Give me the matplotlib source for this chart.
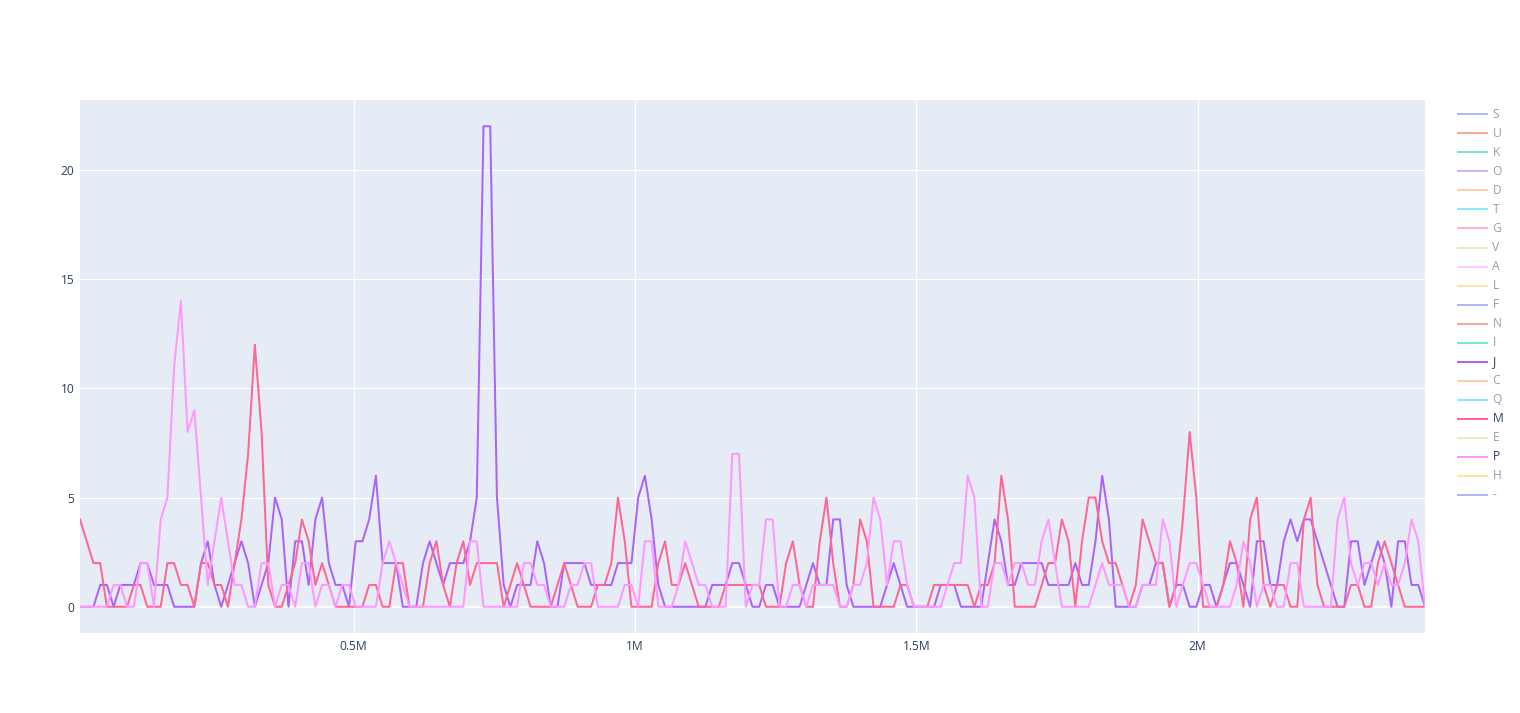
#!/usr/bin/env python
"""
Per-window counts for the three visible series (J, M, P) along the position
axis, drawn plotly-style; the other legend entries are toggled off.
"""
import matplotlib

matplotlib.use("Agg")
import matplotlib.pyplot as plt
from matplotlib.lines import Line2D
from matplotlib.ticker import FixedLocator, FuncFormatter
import numpy as np

# window positions: regular grid, first window and spacing
X_START = 14000
X_STEP = 11950
N_POINTS = 201

j_counts = [
    0, 0, 0, 1, 1, 0, 1, 1, 1, 2,
    2, 1, 1, 1, 0, 0, 0, 0, 2, 3,
    1, 0, 1, 2, 3, 2, 0, 1, 2, 5,
    4, 0, 3, 3, 1, 4, 5, 2, 1, 1,
    0, 3, 3, 4, 6, 2, 2, 2, 0, 0,
    0, 2, 3, 2, 1, 2, 2, 2, 3, 5,
    22, 22, 5, 1, 0, 1, 1, 1, 3, 2,
    0, 0, 2, 2, 2, 2, 1, 1, 1, 1,
    2, 2, 2, 5, 6, 4, 1, 0, 0, 0,
    0, 0, 0, 0, 1, 1, 1, 2, 2, 1,
    0, 0, 1, 1, 0, 0, 0, 0, 1, 2,
    1, 1, 4, 4, 1, 0, 0, 0, 0, 0,
    1, 2, 1, 0, 0, 0, 0, 0, 1, 1,
    1, 0, 0, 0, 0, 2, 4, 3, 1, 1,
    2, 2, 2, 2, 1, 1, 1, 1, 2, 1,
    1, 3, 6, 4, 0, 0, 0, 0, 1, 1,
    2, 2, 0, 1, 1, 0, 0, 1, 1, 0,
    1, 2, 2, 1, 0, 3, 3, 1, 1, 3,
    4, 3, 4, 4, 3, 2, 1, 0, 0, 3,
    3, 1, 2, 3, 2, 0, 3, 3, 1, 1, 0,
]

m_counts = [
    4, 3, 2, 2, 0, 0, 0, 0, 1, 1,
    0, 0, 0, 2, 2, 1, 1, 0, 2, 2,
    1, 1, 0, 2, 4, 7, 12, 8, 1, 0,
    0, 1, 2, 4, 3, 1, 2, 1, 0, 0,
    0, 0, 0, 1, 1, 0, 0, 2, 2, 0,
    0, 0, 2, 3, 1, 0, 2, 3, 1, 2,
    2, 2, 2, 0, 1, 2, 1, 0, 0, 0,
    0, 1, 2, 1, 0, 0, 0, 1, 1, 2,
    5, 3, 0, 0, 0, 0, 2, 3, 1, 1,
    2, 1, 0, 0, 0, 0, 1, 1, 1, 1,
    1, 1, 0, 0, 0, 2, 3, 1, 0, 0,
    3, 5, 2, 0, 0, 1, 4, 3, 0, 0,
    0, 0, 1, 1, 0, 0, 0, 1, 1, 1,
    1, 1, 1, 0, 1, 1, 2, 6, 4, 0,
    0, 0, 0, 1, 2, 2, 4, 3, 0, 3,
    5, 5, 3, 2, 2, 1, 0, 1, 4, 3,
    2, 2, 0, 1, 4, 8, 5, 0, 0, 0,
    1, 3, 2, 0, 4, 5, 1, 0, 1, 1,
    0, 0, 4, 5, 1, 0, 0, 0, 0, 1,
    1, 0, 0, 2, 3, 2, 1, 0, 0, 0, 0,
]

p_counts = [
    0, 0, 0, 0, 0, 1, 1, 0, 0, 2,
    2, 0, 4, 5, 11, 14, 8, 9, 5, 1,
    3, 5, 3, 1, 1, 0, 0, 2, 2, 0,
    1, 1, 0, 2, 2, 0, 1, 1, 0, 1,
    1, 0, 0, 0, 0, 2, 3, 2, 1, 0,
    0, 0, 0, 0, 0, 0, 0, 0, 3, 3,
    0, 0, 0, 0, 0, 0, 2, 2, 1, 1,
    0, 0, 0, 1, 1, 2, 2, 0, 0, 0,
    0, 1, 1, 0, 3, 3, 0, 0, 0, 1,
    3, 2, 1, 1, 0, 0, 0, 7, 7, 0,
    1, 1, 4, 4, 0, 0, 1, 1, 0, 1,
    1, 1, 1, 0, 0, 1, 1, 2, 5, 4,
    1, 3, 3, 1, 0, 0, 0, 0, 0, 1,
    2, 2, 6, 5, 0, 0, 2, 2, 1, 2,
    2, 1, 1, 3, 4, 2, 0, 0, 0, 0,
    0, 1, 2, 1, 1, 1, 0, 0, 1, 1,
    1, 4, 3, 0, 1, 2, 2, 1, 0, 0,
    0, 0, 1, 3, 2, 0, 1, 1, 0, 0,
    2, 2, 0, 0, 0, 0, 0, 4, 5, 2,
    1, 2, 2, 1, 2, 1, 1, 2, 4, 3, 0,
]

legend_names = ["S", "U", "K", "O", "D", "T", "G", "V", "A", "L", "F",
                "N", "I", "J", "C", "Q", "M", "E", "P", "H", "-"]
visible = {"J": j_counts, "M": m_counts, "P": p_counts}

x_ticks = [500000, 1000000, 1500000, 2000000]
y_ticks = [0, 5, 10, 15, 20]

# plotly default colorway, cycled over the traces in legend order
COLORWAY = ["#636efa", "#EF553B", "#00cc96", "#ab63fa", "#FFA15A",
            "#19d3f3", "#FF6692", "#B6E880", "#FF97FF", "#FECB52"]
TEXT = "#2a3f5f"
BG = "#E5ECF6"
W, H = 1520, 713
PX = 72 / 100  # points per pixel at dpi 100


def fmt_m(v, _pos):
    s = f"{v / 1e6:.1f}".rstrip("0").rstrip(".")
    return s + "M"


def main():
    plt.rcParams["font.family"] = ["Open Sans", "DejaVu Sans"]
    x = X_START + X_STEP * np.arange(N_POINTS)

    fig = plt.figure(figsize=(W / 100, H / 100), dpi=100)
    ax = fig.add_axes([80 / W, 1 - 633 / H, 1345 / W, 533 / H])
    ax.set_facecolor(BG)
    for sp in ax.spines.values():
        sp.set_visible(False)

    colors = {n: COLORWAY[i % len(COLORWAY)] for i, n in enumerate(legend_names)}
    for name in legend_names:
        if name in visible:
            ax.plot(x, visible[name], color=colors[name], lw=2 * PX,
                    solid_joinstyle="round", zorder=3)

    ax.set_xlim(x[0], x[-1])
    ax.set_ylim(-1.2, 23.2)
    ax.xaxis.set_major_locator(FixedLocator(x_ticks))
    ax.xaxis.set_major_formatter(FuncFormatter(fmt_m))
    ax.yaxis.set_major_locator(FixedLocator(y_ticks))
    ax.grid(True, color="white", lw=1 * PX, zorder=1)
    ax.axhline(0, color="white", lw=2 * PX, zorder=2)
    ax.tick_params(length=0, labelsize=12 * PX, colors=TEXT)
    ax.tick_params(axis="y", pad=4)
    ax.tick_params(axis="x", pad=5)

    # legend: hidden (legendonly) traces are drawn faded
    for i, name in enumerate(legend_names):
        yf = 1 - (114.3 + 19.03 * i) / H
        a = 1.0 if name in visible else 0.5
        fig.add_artist(Line2D([1458 / W, 1487 / W], [yf, yf],
                              transform=fig.transFigure, color=colors[name],
                              lw=2 * PX, alpha=a))
        fig.text(1492.5 / W, yf, name, fontsize=12 * PX, color=TEXT,
                 alpha=a, va="center", ha="left")

    fig.savefig("out.png", dpi=100, facecolor="white")
    plt.close(fig)


if __name__ == "__main__":
    main()
